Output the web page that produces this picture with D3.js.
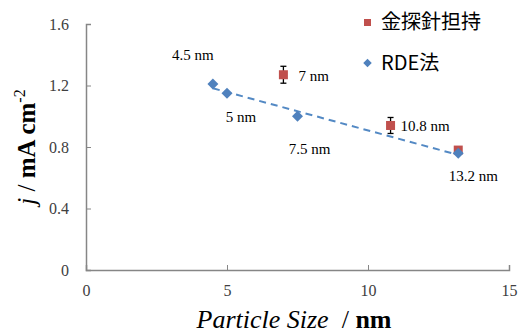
<!DOCTYPE html>
<html><head><meta charset="utf-8">
<script src="https://cdn.jsdelivr.net/npm/d3@7"></script>
<style>body{margin:0;background:#fff}svg{display:block}</style>
</head><body>
<script>
const xTicks = [0, 5, 10, 15];
const yTicks = [0, 0.4, 0.8, 1.2, 1.6];
const rdeSize = [4.5, 5, 7.5, 13.2];
const rdeJ = [1.21, 1.15, 1.0, 0.76];
const rdeLabels = ["4.5 nm", "5 nm", "7.5 nm", "13.2 nm"];
const probeSize = [7, 10.8, 13.2];
const probeJ = [1.27, 0.94, 0.78];
const probeErr = [0.055, 0.052, 0.02];
const probeLabels = ["7 nm", "10.8 nm", ""];
const legendNames = ["金探針担持", "RDE法"];

const SERIF = "Liberation Serif";
const W = 521, H = 335;
const svg = d3.select("body").append("svg").attr("width", W).attr("height", H);
const x = d3.scaleLinear().domain([0, 15]).range([86, 509]);
const y = d3.scaleLinear().domain([0, 1.6]).range([270, 24]);
const axisCol = "#868686";
const red = "#C0504D", blue = "#4F81BD";

// axes
const xa = svg.append("g").attr("transform", "translate(0,270)")
  .call(d3.axisBottom(x).tickValues(xTicks).tickSize(-5).tickPadding(15).tickFormat(d3.format("d")));
const ya = svg.append("g").attr("transform", "translate(86,0)")
  .call(d3.axisLeft(y).tickValues(yTicks).tickSize(-5).tickPadding(17).tickFormat(d => d === 0 ? "0" : d3.format(".1f")(d)));
[xa, ya].forEach(g => {
  g.attr("font-family", SERIF).attr("font-size", 16);
  g.select(".domain").attr("stroke", axisCol).attr("stroke-width", 1.5);
  g.selectAll(".tick line").attr("stroke", axisCol).attr("stroke-width", 1);
  g.selectAll(".tick text").attr("fill", "#404040");
});
xa.selectAll(".tick line").attr("y2", -5);
ya.selectAll(".tick line").attr("x2", 5);

// trendline (least squares of RDE series)
const mx = d3.mean(rdeSize), my = d3.mean(rdeJ);
const slope = d3.sum(rdeSize.map((v, i) => (v - mx) * (rdeJ[i] - my))) / d3.sum(rdeSize.map(v => (v - mx) ** 2));
const icpt = my - slope * mx;
const x0 = d3.min(rdeSize), x1 = d3.max(rdeSize);
svg.append("line")
  .attr("x1", x(x0)).attr("y1", y(icpt + slope * x0))
  .attr("x2", x(x1)).attr("y2", y(icpt + slope * x1))
  .attr("stroke", "#5389C4").attr("stroke-width", 2).attr("stroke-dasharray", "7,5");

// error bars
probeSize.forEach((s, i) => {
  const cx = x(s), t = y(probeJ[i] + probeErr[i]), b = y(probeJ[i] - probeErr[i]);
  const g = svg.append("g").attr("stroke", "#000").attr("stroke-width", 1.3);
  g.append("line").attr("x1", cx).attr("x2", cx).attr("y1", t).attr("y2", b);
  g.append("line").attr("x1", cx - 3).attr("x2", cx + 3).attr("y1", t).attr("y2", t);
  g.append("line").attr("x1", cx - 3).attr("x2", cx + 3).attr("y1", b).attr("y2", b);
});

// red squares
svg.selectAll("rect.p").data(probeSize).enter().append("rect")
  .attr("x", d => x(d) - 4.5).attr("y", (d, i) => y(probeJ[i]) - 4.5)
  .attr("width", 9).attr("height", 9).attr("fill", red);

// blue diamonds
const diamond = d3.symbol().type(d3.symbolSquare).size(60);
svg.selectAll("path.r").data(rdeSize).enter().append("path")
  .attr("d", diamond)
  .attr("transform", (d, i) => `translate(${x(d)},${y(rdeJ[i])}) rotate(45)`)
  .attr("fill", blue);

// data labels
const lblOff = [[-20, -24], [14, 29], [12, 38], [15, 28]];
rdeLabels.forEach((t, i) => {
  svg.append("text").attr("font-family", SERIF).attr("x", x(rdeSize[i]) + lblOff[i][0]).attr("y", y(rdeJ[i]) + lblOff[i][1])
    .attr("text-anchor", "middle").attr("font-size", 15).attr("fill", "#000").text(t);
});
const pOff = [[15, 6], [10, 6]];
probeLabels.forEach((t, i) => {
  if (!t) return;
  svg.append("text").attr("font-family", SERIF).attr("x", x(probeSize[i]) + pOff[i][0]).attr("y", y(probeJ[i]) + pOff[i][1])
    .attr("font-size", 15).attr("fill", "#000").text(t);
});

// legend
const leg = svg.append("g");
leg.append("rect").attr("x", 364).attr("y", 19).attr("width", 7).attr("height", 7).attr("fill", red);
leg.append("path").attr("d", d3.symbol().type(d3.symbolSquare).size(36)).attr("transform", "translate(367.5,63) rotate(45)").attr("fill", blue);
leg.selectAll("text").data(legendNames).enter().append("text")
  .attr("x", 381).attr("y", (d, i) => 22 + i * 41).attr("dy", "0.35em")
  .attr("font-family", "Noto Sans CJK JP").attr("font-size", 20).attr("fill", "#000").text(d => d);

// x title
const xt = svg.append("text").attr("font-family", SERIF).attr("x", 294).attr("y", 328).attr("text-anchor", "middle")
  .attr("font-size", 26).attr("fill", "#000");
xt.append("tspan").attr("font-style", "italic").text("Particle Size");
xt.append("tspan").text("\u00a0 / ");
xt.append("tspan").attr("font-weight", "bold").text("nm");

// y title
const yt = svg.append("text").attr("font-family", SERIF).attr("transform", "translate(35,147) rotate(-90)").attr("text-anchor", "middle")
  .attr("font-size", 25).attr("fill", "#000");
yt.append("tspan").attr("font-style", "italic").text("j");
yt.append("tspan").text(" / ");
yt.append("tspan").attr("font-weight", "bold").text("mA cm");
yt.append("tspan").attr("font-size", 16).attr("dy", -10).text("-2");
</script>
</body></html>
